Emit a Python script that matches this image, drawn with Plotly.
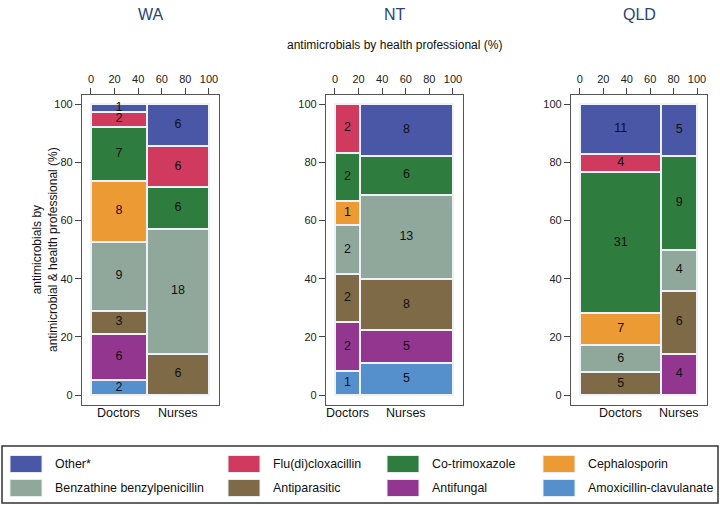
import plotly.graph_objects as go

# legend / stacking order (top of each column first)
drugs = [
    "Other*",
    "Flu(di)cloxacillin",
    "Co-trimoxazole",
    "Cephalosporin",
    "Benzathine benzylpenicillin",
    "Antiparasitic",
    "Antifungal",
    "Amoxicillin-clavulanate",
]
colors = ["#4a56a6", "#d13a5f", "#2e7d3f", "#ec9b34", "#8fa89b", "#7e6a46", "#93368f", "#5590cd"]

states = ["WA", "NT", "QLD"]
professions = ["Doctors", "Nurses"]

wa_doctors = [1, 2, 7, 8, 9, 3, 6, 2]
wa_nurses = [6, 6, 6, 0, 18, 6, 0, 0]
nt_doctors = [0, 2, 2, 1, 2, 2, 2, 1]
nt_nurses = [8, 0, 6, 0, 13, 8, 5, 5]
qld_doctors = [11, 4, 31, 7, 6, 5, 0, 0]
qld_nurses = [5, 0, 9, 0, 4, 6, 4, 0]

counts = {
    "WA": [wa_doctors, wa_nurses],
    "NT": [nt_doctors, nt_nurses],
    "QLD": [qld_doctors, qld_nurses],
}

W, H = 720, 505
# panel frames in pixels (left, right), shared top/bottom
panel_px = [(82, 219), (326, 463), (571, 707)]
top_px, bot_px = 95, 405


def note(text, px, py, size=12, color="#111111", xanchor="center", **kw):
    # annotation placed by pixel position (from top-left)
    return dict(
        text=text, x=px / W, y=(H - py) / H, xref="paper", yref="paper",
        xanchor=xanchor, yanchor="middle", showarrow=False,
        font=dict(size=size, color=color), **kw
    )


fig = go.Figure()
annotations = []
shapes = []

for i, st in enumerate(states):
    xa = "x" if i == 0 else "x%d" % (i + 1)
    ya = "y" if i == 0 else "y%d" % (i + 1)
    cols = counts[st]
    col_tot = [sum(c) for c in cols]
    grand = sum(col_tot)
    widths = [t / grand * 100 for t in col_tot]
    lefts = [0, widths[0]]
    centers = [lefts[j] + widths[j] / 2 for j in range(2)]

    tx, ty, tt = [], [], []
    bases = [0.0, 0.0]
    for k in reversed(range(len(drugs))):
        bx, by, bb, bw = [], [], [], []
        for j in range(2):
            v = cols[j][k]
            if v == 0:
                continue
            h = v / col_tot[j] * 100
            bx.append(centers[j])
            by.append(h)
            bb.append(bases[j])
            bw.append(widths[j])
            tx.append(centers[j])
            ty.append(bases[j] + h / 2)
            tt.append(str(v))
            bases[j] += h
        if bx:
            fig.add_trace(
                go.Bar(
                    x=bx, y=by, base=bb, width=bw,
                    marker_color=colors[k],
                    marker_line=dict(color="#eef2f8", width=2),
                    xaxis=xa, yaxis=ya, showlegend=False, hoverinfo="skip",
                )
            )
    fig.add_trace(
        go.Scatter(
            x=tx, y=ty, text=tt, mode="text",
            textfont=dict(size=12.5, color="#111111"),
            xaxis=xa, yaxis=ya, showlegend=False, hoverinfo="skip",
        )
    )

    l, r = panel_px[i]
    dom = [l / W, r / W]
    axis_common = dict(
        showline=True, mirror=True, linecolor="#555555", linewidth=1.3,
        ticks="outside", ticklen=6, tickcolor="#444444", tickwidth=1,
        showgrid=False, zeroline=False, automargin=False,
        tickfont=dict(size=11, color="#222222"),
    )
    fig.update_layout(
        **{
            "xaxis" if i == 0 else "xaxis%d" % (i + 1): dict(
                domain=dom, range=[-7.6, 108.5], side="top",
                tickvals=[0, 20, 40, 60, 80, 100], anchor=ya, **axis_common
            ),
            "yaxis" if i == 0 else "yaxis%d" % (i + 1): dict(
                domain=[(H - bot_px) / H, (H - top_px) / H], range=[-3.4, 103.1],
                tickvals=[0, 20, 40, 60, 80, 100], anchor=xa, **axis_common
            ),
        }
    )

    # state title
    annotations.append(note(st, (l + r) / 2, 14, size=16, color="#2a4377"))
    # profession labels under columns
    for j in range(2):
        annotations.append(dict(
            text=professions[j], x=centers[j], xref=xa, y=(H - 413) / H, yref="paper",
            xanchor="center", yanchor="middle",
            showarrow=False, font=dict(size=12.5, color="#111111"),
        ))

annotations.append(note("antimicrobials by health professional (%)", 394.5, 45))
annotations.append(note(
    "antimicrobials by<br>antimicrobial & health professional (%)", 45, 250, textangle=-90
))

# legend box drawn manually to match the wide swatches
shapes.append(dict(
    type="rect", xref="paper", yref="paper",
    x0=2 / W, x1=718 / W, y0=(H - 503) / H, y1=(H - 446) / H,
    line=dict(color="#333333", width=1.5), fillcolor="white",
))
col_x = [10, 228, 387, 543]
row_y = [464, 488]
for k, name in enumerate(drugs):
    r_, c_ = divmod(k, 4)
    cx, cy = col_x[c_], row_y[r_]
    shapes.append(dict(
        type="rect", xref="paper", yref="paper",
        x0=cx / W, x1=(cx + 32) / W, y0=(H - cy - 8.5) / H, y1=(H - cy + 8.5) / H,
        fillcolor=colors[k], line=dict(color="#e6ecf4", width=1),
    ))
    annotations.append(note(name, cx + 43, cy, size=12.4, xanchor="left"))

fig.update_layout(
    width=W, height=H,
    margin=dict(l=0, r=0, t=0, b=0, autoexpand=False),
    paper_bgcolor="white", plot_bgcolor="white",
    barmode="overlay", bargap=0,
    font=dict(family="Liberation Sans, Arial", size=12),
    annotations=annotations, shapes=shapes,
    showlegend=False,
)

fig.write_html(
    "out.html",
    config={"displayModeBar": False},
    post_script="document.body.style.margin='0';",
)
